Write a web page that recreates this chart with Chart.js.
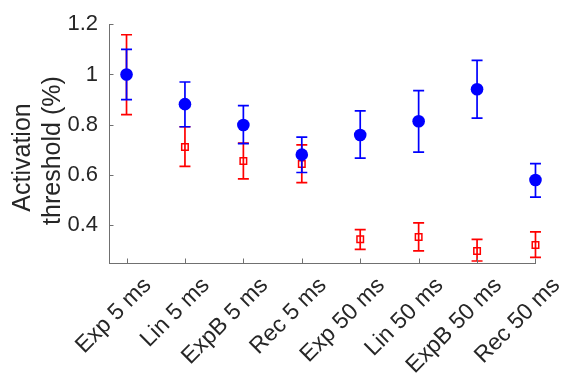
<!DOCTYPE html>
<html>
<head>
<meta charset="utf-8">
<script src="https://cdn.jsdelivr.net/npm/chart.js@4/dist/chart.umd.min.js"></script>
<style>
  html, body { margin: 0; padding: 0; background: #fff; }
  #wrap { width: 564px; height: 377px; }
</style>
</head>
<body>
<div id="wrap"><canvas id="c" width="564" height="377"></canvas></div>
<script>
// Stimulus waveforms
const categories = ['Exp 5 ms', 'Lin 5 ms', 'ExpB 5 ms', 'Rec 5 ms', 'Exp 50 ms', 'Lin 50 ms', 'ExpB 50 ms', 'Rec 50 ms'];

// Blue series (filled circles): mean and error-bar limits
const blueMean = [1.000, 0.882, 0.799, 0.681, 0.759, 0.814, 0.941, 0.580];
const blueLow  = [0.900, 0.792, 0.725, 0.610, 0.667, 0.691, 0.826, 0.512];
const blueHigh = [1.100, 0.970, 0.876, 0.751, 0.855, 0.936, 1.056, 0.645];

// Red series (open squares): mean and error-bar limits
const redMean = [1.000, 0.711, 0.656, 0.644, 0.344, 0.353, 0.298, 0.322];
const redLow  = [0.840, 0.634, 0.585, 0.570, 0.304, 0.298, 0.258, 0.272];
const redHigh = [1.158, 0.792, 0.727, 0.720, 0.383, 0.410, 0.344, 0.374];

// Y tick values
const yTicks = [0.4, 0.6, 0.8, 1, 1.2];

const textColor = '#262626';
const axisColor = '#707070';
const fontFamily = '"Liberation Sans", Arial, Helvetica, sans-serif';

const toPoints = arr => arr.map((v, i) => ({ x: i, y: v }));
const errorLimits = [
  { low: blueLow, high: blueHigh },
  { low: redLow, high: redHigh }
];

// Vertical error bars with caps, drawn beneath each dataset's markers
const errorBars = {
  id: 'errorBars',
  beforeDatasetDraw(chart, args) {
    const lim = errorLimits[args.index];
    const ds = chart.data.datasets[args.index];
    const ys = chart.scales.y;
    const ctx = chart.ctx;
    const cap = 5.5;
    ctx.save();
    ctx.strokeStyle = ds.borderColor;
    ctx.lineWidth = 1.7;
    args.meta.data.forEach((pt, i) => {
      const x = pt.x;
      const yl = ys.getPixelForValue(lim.low[i]);
      const yh = ys.getPixelForValue(lim.high[i]);
      ctx.beginPath();
      ctx.moveTo(x, yl); ctx.lineTo(x, yh);
      ctx.moveTo(x - cap, yl); ctx.lineTo(x + cap, yl);
      ctx.moveTo(x - cap, yh); ctx.lineTo(x + cap, yh);
      ctx.stroke();
    });
    ctx.restore();
  }
};

// Tick marks pointing into the plot area
const innerTicks = {
  id: 'innerTicks',
  afterDraw(chart) {
    const { ctx, chartArea, scales } = chart;
    const len = 4.5;
    ctx.save();
    ctx.strokeStyle = axisColor;
    ctx.lineWidth = 1;
    ctx.beginPath();
    scales.x.ticks.forEach(t => {
      const x = Math.round(scales.x.getPixelForValue(t.value)) + 0.5;
      ctx.moveTo(x, chartArea.bottom); ctx.lineTo(x, chartArea.bottom - len);
    });
    scales.y.ticks.forEach(t => {
      const y = Math.round(scales.y.getPixelForValue(t.value)) + 0.5;
      ctx.moveTo(chartArea.left, y); ctx.lineTo(chartArea.left + len, y);
    });
    ctx.stroke();
    ctx.restore();
  }
};

new Chart(document.getElementById('c'), {
  type: 'line',
  data: {
    datasets: [
      {
        data: toPoints(blueMean),
        showLine: false,
        clip: false,
        borderColor: '#0000ff',
        backgroundColor: '#0000ff',
        pointStyle: 'circle',
        pointRadius: 6.3,
        pointBorderWidth: 0,
        pointHoverRadius: 6.3
      },
      {
        data: toPoints(redMean),
        showLine: false,
        clip: false,
        borderColor: '#ff0000',
        backgroundColor: 'rgba(0,0,0,0)',
        pointStyle: 'rect',
        pointRadius: 4.6,
        pointBorderWidth: 1.5,
        pointHoverRadius: 4.6
      }
    ]
  },
  options: {
    responsive: false,
    animation: false,
    events: [],
    layout: { padding: { left: 0, top: 21, right: 17, bottom: 0 } },
    plugins: { legend: { display: false }, tooltip: { enabled: false } },
    scales: {
      x: {
        type: 'linear',
        min: -0.3,
        max: 7,
        grid: { display: false, drawTicks: false },
        border: { display: true, color: axisColor, width: 1 },
        afterBuildTicks: s => { s.ticks = categories.map((_, i) => ({ value: i })); },
        afterFit: s => { s.height = 114; },
        ticks: {
          autoSkip: false,
          maxRotation: 45,
          minRotation: 45,
          padding: 9,
          labelOffset: 21,
          color: textColor,
          font: { family: fontFamily, size: 23 },
          callback: v => categories[v]
        }
      },
      y: {
        type: 'linear',
        min: 0.25,
        max: 1.2,
        grid: { display: false, drawTicks: false },
        border: { display: true, color: axisColor, width: 1 },
        afterBuildTicks: s => { s.ticks = yTicks.map(v => ({ value: v })); },
        afterFit: s => { s.width = 109; },
        ticks: {
          padding: 11,
          color: textColor,
          font: { family: fontFamily, size: 22 },
          callback: v => String(v)
        },
        title: {
          display: true,
          text: ['Activation\u00a0\u00a0\u00a0\u00a0', 'threshold (%)\u00a0\u00a0'],
          color: textColor,
          font: { family: fontFamily, size: 25, lineHeight: 1.2 },
          padding: { top: 8, bottom: 0 }
        }
      }
    }
  },
  plugins: [errorBars, innerTicks]
});
</script>
</body>
</html>
